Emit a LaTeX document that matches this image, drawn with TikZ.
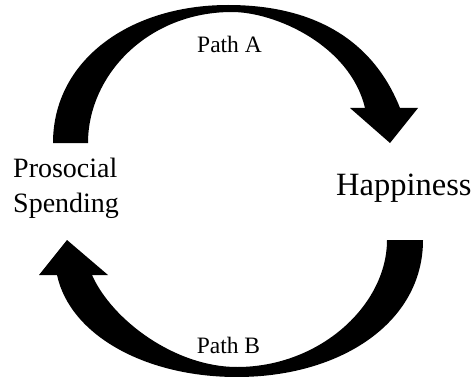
\documentclass[tikz,border=0pt]{standalone}
\usepackage{fontspec}
\setmainfont{Liberation Serif}
\begin{document}
\begin{tikzpicture}[x=1pt,y=-1pt,
  blockarrow/.style={fill=black,draw=none},
  lbl/.style={inner sep=0pt,anchor=base west},
  pathlbl/.style={inner sep=0pt,anchor=base,font=\fontsize{23.5}{28}\selectfont},
  biglbl/.style={font=\fontsize{28}{34}\selectfont}]
\useasboundingbox (0,0) rectangle (476,377);
% top arrow (Path A)
\fill[blockarrow] (53,143) .. controls (53,60) and (130,5) .. (228,5)
  .. controls (320,5) and (375,45) .. (400,108) -- (418,108) -- (390,143) -- (350,108) -- (365,108)
  .. controls (350,45) and (275,12) .. (232,12)
  .. controls (148,12) and (88,75) .. (88,143) -- cycle;
% bottom arrow (Path B)
\fill[blockarrow] (423,240) .. controls (423,323) and (340,377) .. (237,377)
  .. controls (145,377) and (70,335) .. (57,275) -- (39,275) -- (67,240) -- (108,275) -- (92,275)
  .. controls (112,320) and (175,367) .. (237,367)
  .. controls (320,367) and (387,305) .. (387,240) -- cycle;
\node[lbl,biglbl] (pro) at (13,177) {Prosocial};
\node[lbl,biglbl] (spe) at (13,212) {Spending};
\node[lbl,font=\fontsize{32.5}{38}\selectfont] (hap) at (336,195) {Happiness};
\node[pathlbl] (pa) at (229.5,52.5) {Path A};
\node[pathlbl] (pb) at (228.5,353) {Path B};
\end{tikzpicture}
\end{document}
